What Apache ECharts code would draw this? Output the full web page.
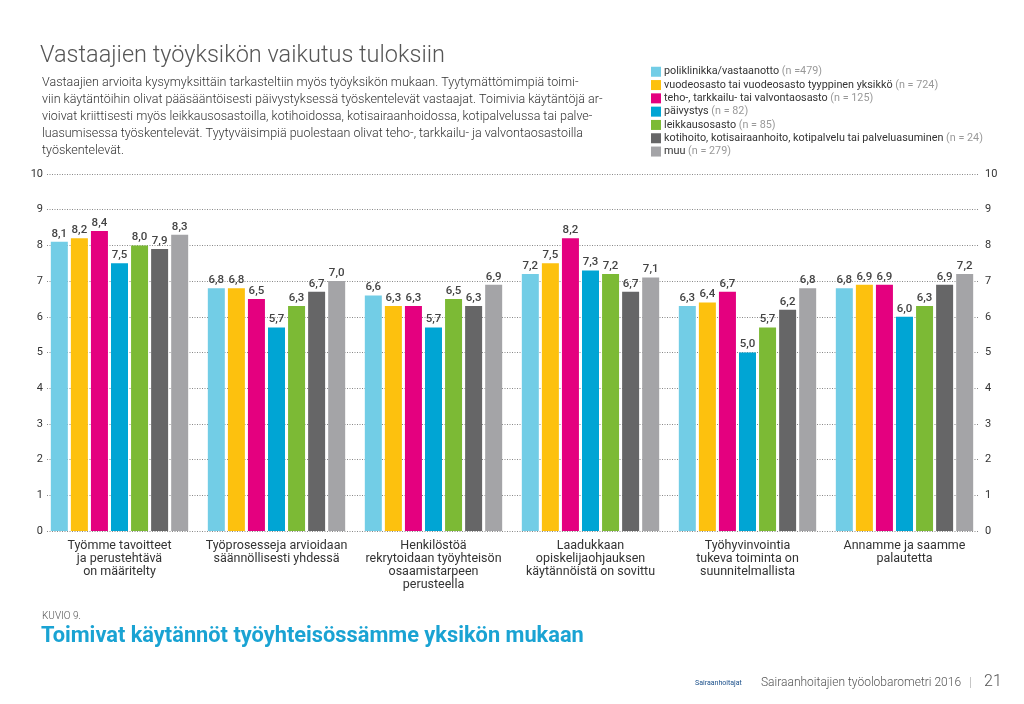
<!DOCTYPE html>
<html><head><meta charset="utf-8">
<script src="https://cdn.jsdelivr.net/npm/echarts@6/dist/echarts.min.js"></script>
<style>html,body{margin:0;padding:0;background:#fff}#c{width:1024px;height:704px}</style>
</head><body><div id="c"></div>
<script>
var categories = [
  "Työmme tavoitteet\nja perustehtävä\non määritelty",
  "Työprosesseja arvioidaan\nsäännöllisesti yhdessä",
  "Henkilöstöä\nrekrytoidaan työyhteisön\nosaamistarpeen\nperusteella",
  "Laadukkaan\nopiskelijaohjauksen\nkäytännöistä on sovittu",
  "Työhyvinvointia\ntukeva toiminta on\nsuunnitelmallista",
  "Annamme ja saamme\npalautetta"
];
var seriesNames = [
  "poliklinikka/vastaanotto",
  "vuodeosasto tai vuodeosasto tyyppinen yksikkö",
  "teho-, tarkkailu- tai valvontaosasto",
  "päivystys",
  "leikkausosasto",
  "kotihoito, kotisairaanhoito, kotipalvelu tai palveluasuminen",
  "muu"
];
var seriesN = ["(n =479)", "(n = 724)", "(n = 125)", "(n = 82)", "(n = 85)", "(n = 24)", "(n = 279)"];
var poliklinikka = [8.1, 6.8, 6.6, 7.2, 6.3, 6.8];
var vuodeosasto  = [8.2, 6.8, 6.3, 7.5, 6.4, 6.9];
var teho         = [8.4, 6.5, 6.3, 8.2, 6.7, 6.9];
var paivystys    = [7.5, 5.7, 5.7, 7.3, 5.0, 6.0];
var leikkaus     = [8.0, 6.3, 6.5, 7.2, 5.7, 6.3];
var kotihoito    = [7.9, 6.7, 6.3, 6.7, 6.2, 6.9];
var muu          = [8.3, 7.0, 6.9, 7.1, 6.8, 7.2];
var seriesValues = [poliklinikka, vuodeosasto, teho, paivystys, leikkaus, kotihoito, muu];
var yTicks = [0, 1, 2, 3, 4, 5, 6, 7, 8, 9, 10];
var colors = ["#72CDE6", "#FDC10E", "#E4007F", "#00A5D4", "#7CBA35", "#666667", "#A4A4A7"];

var paragraph = [
  "Vastaajien arvioita kysymyksittäin tarkasteltiin myös työyksikön mukaan. Tyytymättömimpiä toimi-",
  "viin käytäntöihin olivat pääsääntöisesti päivystyksessä työskentelevät vastaajat. Toimivia käytäntöjä ar-",
  "vioivat kriittisesti myös leikkausosastoilla, kotihoidossa, kotisairaanhoidossa, kotipalvelussa tai palve-",
  "luasumisessa työskentelevät. Tyytyväisimpiä puolestaan olivat teho-, tarkkailu- ja valvontaosastoilla",
  "työskentelevät."
];

var chart = echarts.init(document.getElementById('c'));
var FONT = 'Roboto';
var fmt = function (p) { return p.value.toFixed(1).replace('.', ','); };

var series = seriesNames.map(function (name, i) {
  return {
    name: name,
    type: 'bar',
    xAxisIndex: 1,
    yAxisIndex: 2,
    data: seriesValues[i],
    barWidth: 17,
    barGap: '18%',
    itemStyle: { color: colors[i] },
    label: {
      show: true, position: 'top', distance: 2, formatter: fmt,
      fontFamily: FONT, fontSize: 11.5, fontWeight: 500, color: '#444'
    }
  };
});

var option = {
  animation: false,
  backgroundColor: '#fff',
  textStyle: { fontFamily: FONT },
  title: [
    { text: "Vastaajien työyksikön vaikutus tuloksiin", left: 35, top: 39,
      textStyle: { fontFamily: FONT, fontSize: 23.5, fontWeight: 300, color: '#555' } },
    { text: paragraph.join('\n'), left: 37, top: 69,
      textStyle: { fontFamily: FONT, fontSize: 12.5, fontWeight: 300, color: '#333', lineHeight: 17 } },
    { text: "KUVIO 9.", left: 37, top: 606,
      textStyle: { fontFamily: FONT, fontSize: 10, fontWeight: 300, color: '#555' } },
    { text: "Toimivat käytännöt työyhteisössämme yksikön mukaan", left: 36, top: 621,
      textStyle: { fontFamily: FONT, fontSize: 21.8, fontWeight: 'bold', color: '#1AA3D3' } },
    { text: "Sairaanhoitajien työolobarometri 2016", left: 756, top: 672,
      textStyle: { fontFamily: FONT, fontSize: 12, fontWeight: 300, color: '#555' } },
    { text: "|", left: 964, top: 671,
      textStyle: { fontFamily: FONT, fontSize: 13, fontWeight: 300, color: '#aaa' } },
    { text: "21", left: 979, top: 669,
      textStyle: { fontFamily: FONT, fontSize: 16, fontWeight: 300, color: '#555' } },
    { text: "Sairaanhoitajat", left: 690, top: 675,
      textStyle: { fontFamily: FONT, fontSize: 7, fontWeight: 'normal', color: '#1a4f8a' } }
  ],
  legend: {
    orient: 'vertical', left: 646, top: 61,
    itemWidth: 10, itemHeight: 10, itemGap: 1.8, icon: 'rect',
    data: seriesNames,
    selectedMode: false,
    formatter: function (name) {
      var i = seriesNames.indexOf(name);
      return name + ' {n|' + seriesN[i] + '}';
    },
    textStyle: {
      fontFamily: FONT, fontSize: 10.8, color: '#333', padding: [0, 0, 0, -2], lineHeight: 11.5,
      rich: { n: { fontFamily: FONT, fontSize: 10.8, color: '#999', lineHeight: 11.5 } }
    }
  },
  grid: [
    { left: 47, right: 46, top: 174, bottom: 173 },
    { left: 41, right: 41, top: 174, bottom: 173 }
  ],
  xAxis: [
    { type: 'category', gridIndex: 0, data: categories, show: false },
    { type: 'category', gridIndex: 1, data: categories,
      axisLine: { show: false }, axisTick: { show: false },
      axisLabel: { interval: 0, margin: 9, fontFamily: FONT, fontSize: 12.5, color: '#333', lineHeight: 12.7 } }
  ],
  yAxis: [
    { type: 'value', gridIndex: 0, min: 0, max: 10, interval: 1, position: 'left',
      axisLine: { show: false }, axisTick: { show: false },
      axisLabel: { margin: 4, fontFamily: FONT, fontSize: 11, color: '#333',
        formatter: function (v) { return yTicks.indexOf(v) >= 0 ? String(v) : ''; } },
      splitLine: { show: true, lineStyle: { color: '#888', type: [1, 1.5], width: 1 } } },
    { type: 'value', gridIndex: 0, min: 0, max: 10, interval: 1, position: 'right',
      axisLine: { show: false }, axisTick: { show: false },
      axisLabel: { margin: 7, fontFamily: FONT, fontSize: 11, color: '#333',
        formatter: function (v) { return yTicks.indexOf(v) >= 0 ? String(v) : ''; } },
      splitLine: { show: false } },
    { type: 'value', gridIndex: 1, min: 0, max: 10, interval: 1, show: false }
  ],
  series: series
};
chart.setOption(option);
</script>
</body></html>
